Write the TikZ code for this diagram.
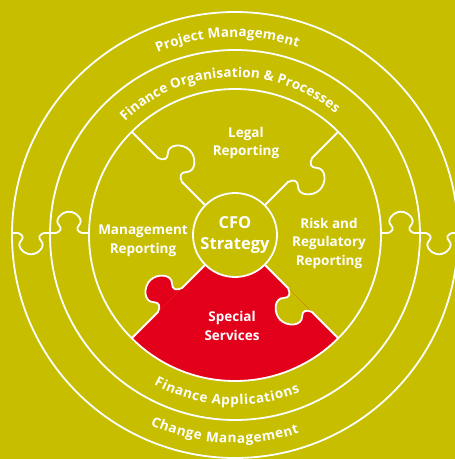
\documentclass[tikz,border=0pt]{standalone}
\usepackage{fontspec}
\setmainfont{Open Sans}
\usetikzlibrary{decorations.text}

\definecolor{bgolive}{HTML}{C8BE00}
\definecolor{ssred}{HTML}{E2001A}

% one puzzle knob, drawn from the current point, 34 long, bulging to -y
\newcommand{\knob}{.. controls +(6,-2) and +(4,4) .. ++(4,-10)
    .. controls +(-7,-7) and +(-10,0) .. ++(13,-18)
    .. controls +(10,0) and +(7,-7) .. ++(13,18)
    .. controls +(-4,4) and +(-6,-2) .. ++(4,10)}
\newcommand{\curvefont}{\bfseries\fontsize{13.5}{15}\selectfont}

\begin{document}
\begin{tikzpicture}[x=1pt, y=1pt,
    seam/.style={draw=white, line width=1.8pt},
    lbl/.style={text=white, align=center, font=\bfseries\fontsize{13.5}{18.5}\selectfont},
    ringtext/.style={decorate, decoration={text along path, text align={fit to path}, text color=white}}]
    \useasboundingbox (-235,-224) rectangle (220,235);
    \fill[bgolive] (-235,-224) rectangle (220,235);

    % The red piece
    \fill[ssred] (225:42) -- (225:146) arc[start angle=225, end angle=315, radius=146]
        -- (315:42) arc[start angle=315, end angle=225, radius=42] -- cycle;
    \fill[ssred, rotate=225] (75,0) \knob -- cycle;
    \fill[bgolive, rotate=-45] (75,0) \knob -- cycle;

    % The rings
    \draw[seam] (0,0) circle[radius=146];
    \draw[seam] (0,0) circle[radius=185];
    \draw[seam] (0,0) circle[radius=223];

    % The cuts between the pieces
    \foreach \a in {135,45,-45,225}
        \draw[seam, rotate=\a] (42,0) -- (75,0) \knob -- (146,0);
    \draw[seam, shift={(-204,2)}, scale=0.76] (-25,0) -- (-17,0) \knob -- (25,0);
    \draw[seam, shift={(-166,2)}, xscale=0.76, yscale=-0.76] (-26,0) -- (-17,0) \knob -- (26,0);
    \draw[seam, shift={(166,2)}, xscale=0.76, yscale=-0.76] (-26,0) -- (-17,0) \knob -- (26,0);
    \draw[seam, shift={(204,2)}, scale=0.76] (-25,0) -- (-17,0) \knob -- (25,0);

    % Place the center node
    \node[circle, draw=white, line width=1.8pt, fill=bgolive, minimum size=84pt, inner sep=0pt,
        text=white, align=center, font=\bfseries\fontsize{16.5}{21}\selectfont] (cfo) at (0,0) {CFO\\Strategy};

    % Place the other nodes
    \node[lbl] (legal) at (11,92) {Legal\\Reporting};
    \node[lbl] (mgmt) at (-92,-6) {Management\\Reporting};
    \node[lbl] (risk) at (94,-8) {Risk and\\Regulatory\\Reporting};
    \node[lbl] (special) at (-3,-91) {Special\\Services};

    % Texts round the rings
    \path[ringtext, decoration={text={|\curvefont|Project Management}}]
        (113:198) arc[start angle=113, end angle=71.5, radius=198];
    \path[ringtext, decoration={text={|\curvefont|Finance Organisation {\&} Processes}}]
        (134:158) arc[start angle=134, end angle=50.5, radius=158];
    \path[ringtext, decoration={text={|\curvefont|Finance Applications}}]
        (241.5:170) arc[start angle=241.5, end angle=292.5, radius=170];
    \path[ringtext, decoration={text={|\curvefont|Change Management}}]
        (246:208) arc[start angle=246, end angle=288, radius=208];
\end{tikzpicture}
\end{document}
